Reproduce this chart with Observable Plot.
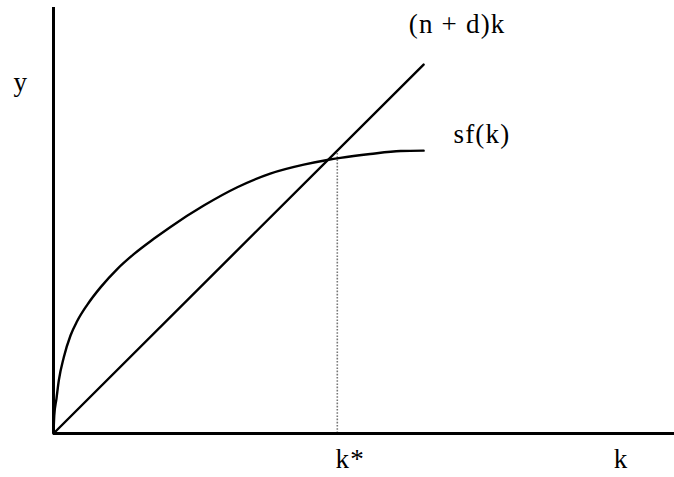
<!DOCTYPE html>
<html>
<head>
<meta charset="utf-8">
<script src="https://cdn.jsdelivr.net/npm/d3@7"></script>
<script src="https://cdn.jsdelivr.net/npm/@observablehq/plot@0.6"></script>
<style>
  html, body { margin: 0; padding: 0; background: #fff; }
  #chart svg { display: block; }
  #chart svg text { font-family: "Liberation Serif", "Times New Roman", Tinos, "DejaVu Serif", serif; }
</style>
</head>
<body>
<div id="chart"></div>
<script>
// sf(k) curve (capital per worker k, saving per worker)
const sfK = [0, 0.012, 0.048, 0.085, 0.166, 0.274, 0.382, 0.543, 0.757, 1.026, 1.293, 1.615, 1.884, 2.42, 2.96, 3.49, 4.03, 4.41, 4.62, 5.10, 5.59, 5.96];
const sfY = [0, 0.42, 0.82, 1.24, 1.79, 2.30, 2.64, 3.02, 3.43, 3.86, 4.21, 4.57, 4.85, 5.35, 5.78, 6.10, 6.31, 6.42, 6.47, 6.56, 6.63, 6.64];
// (n + d)k break-even line
const lineK = [0, 5.96];
const lineY = [0, 8.66];
// steady state
const kStar = 4.57;
const kStarY = 6.57;
// axis extents
const xMax = 10;
const yMax = 10;
// labels
const labelText = ["(n + d)k", "sf(k)", "y", "k*", "k"];
const labelX = [5.72, 6.44, -0.644, 4.54, 9.02];
const labelY = [9.41, 6.81, 8.05, -0.82, -0.82];

const sfData = sfK.map((k, i) => ({k, y: sfY[i]}));
const lineData = lineK.map((k, i) => ({k, y: lineY[i]}));
const labels = labelText.map((t, i) => ({t, x: labelX[i], y: labelY[i]}));

const serif = "Liberation Serif, Times New Roman, Tinos, DejaVu Serif, serif";

const chart = Plot.plot({
  width: 674,
  height: 477,
  marginLeft: 53,
  marginRight: 0,
  marginTop: 7,
  marginBottom: 44,
  x: {domain: [0, xMax], axis: null},
  y: {domain: [0, yMax], axis: null},
  style: {background: "#fff", overflow: "visible", letterSpacing: "1.2px", fontFamily: serif},
  marks: [
    Plot.ruleX([{x: kStar, y1: 0, y2: kStarY}], {x: "x", y1: "y1", y2: "y2", stroke: "#777", strokeWidth: 1.6, strokeDasharray: "1.6,1.6"}),
    Plot.line(sfData, {x: "k", y: "y", curve: "monotone-x", stroke: "#000", strokeWidth: 2.4}),
    Plot.line(lineData, {x: "k", y: "y", stroke: "#000", strokeWidth: 2.4}),
    Plot.ruleX([0], {y1: 0, y2: yMax, stroke: "#000", strokeWidth: 3}),
    Plot.ruleY([0], {x1: 0, x2: xMax, stroke: "#000", strokeWidth: 3}),
    Plot.text(labels, {x: "x", y: "y", text: "t", textAnchor: "start", lineAnchor: "bottom", fontFamily: serif, fontSize: 27, fill: "#000"})
  ]
});
document.getElementById("chart").appendChild(chart);
</script>
</body>
</html>
